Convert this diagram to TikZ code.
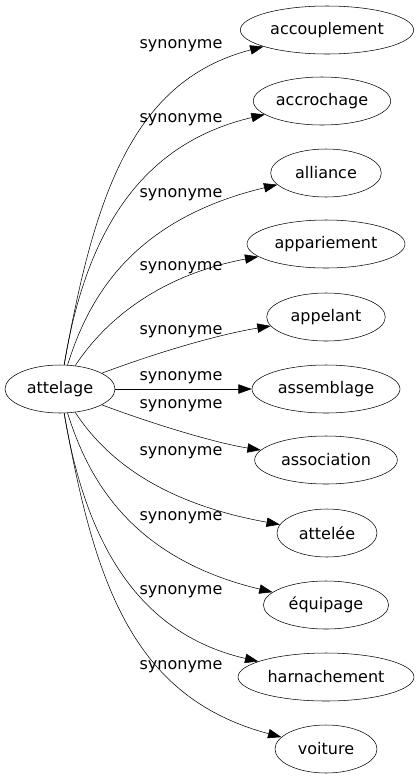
\documentclass[tikz,border=0pt]{standalone}
\usepackage{fontspec}
\setmainfont{DejaVu Sans}
\usetikzlibrary{shapes,arrows.meta}

\begin{document}
\begin{tikzpicture}[x=0.75pt, y=-0.75pt,
        every node/.style={font=\fontsize{12}{14}\selectfont},
        word/.style={draw, ellipse, inner sep=0pt, minimum height=36pt},
        rel/.style={inner sep=0pt},
        syn/.style={-{Triangle[length=10pt, width=7pt]}}]
        \useasboundingbox (0, 0) rectangle (419, 779);

        \node [word, minimum width=82.5pt] (A) at (60, 389) {attelage};

        \node [word, minimum width=130pt] (B1) at (327, 30) {accouplement};
        \node [word, minimum width=103pt] (B2) at (322, 101) {accrochage};
        \node [word, minimum width=83pt] (B3) at (326, 173) {alliance};
        \node [word, minimum width=118.5pt] (B4) at (326, 244) {appariement};
        \node [word, minimum width=89pt] (B5) at (326, 317) {appelant};
        \node [word, minimum width=111pt] (B6) at (326, 389) {assemblage};
        \node [word, minimum width=107pt] (B7) at (326, 460) {association};
        \node [word, minimum width=75pt] (B8) at (327, 533) {attelée};
        \node [word, minimum width=94pt] (B9) at (326, 605) {équipage};
        \node [word, minimum width=132pt] (B10) at (326, 677) {harnachement};
        \node [word, minimum width=76.5pt] (B11) at (326, 749) {voiture};

        \node [rel] (S1) at (181, 46) {synonyme};
        \node [rel] (S2) at (181, 120) {synonyme};
        \node [rel] (S3) at (181, 195) {synonyme};
        \node [rel] (S4) at (181, 268) {synonyme};
        \node [rel] (S5) at (181, 332) {synonyme};
        \node [rel] (S6) at (181, 378) {synonyme};
        \node [rel] (S7) at (181, 406) {synonyme};
        \node [rel] (S8) at (181, 453) {synonyme};
        \node [rel] (S9) at (181, 518) {synonyme};
        \node [rel] (S10) at (181, 592) {synonyme};
        \node [rel] (S11) at (181, 667) {synonyme};

        \draw [syn] (A) .. controls (95, 190) and (135, 80) .. (B1);
        \draw [syn] (A) .. controls (85, 240) and (135, 145) .. (B2);
        \draw [syn] (A) .. controls (88, 300) and (130, 220) .. (B3);
        \draw [syn] (A) .. controls (105, 320) and (160, 275) .. (B4);
        \draw [syn] (A) .. controls (150, 355) and (215, 335) .. (B5);
        \draw [syn] (A) -- (B6);
        \draw [syn] (A) .. controls (150, 423) and (215, 443) .. (B7);
        \draw [syn] (A) .. controls (105, 458) and (160, 503) .. (B8);
        \draw [syn] (A) .. controls (88, 478) and (130, 558) .. (B9);
        \draw [syn] (A) .. controls (85, 538) and (135, 633) .. (B10);
        \draw [syn] (A) .. controls (95, 588) and (135, 698) .. (B11);
    \end{tikzpicture}
\end{document}
